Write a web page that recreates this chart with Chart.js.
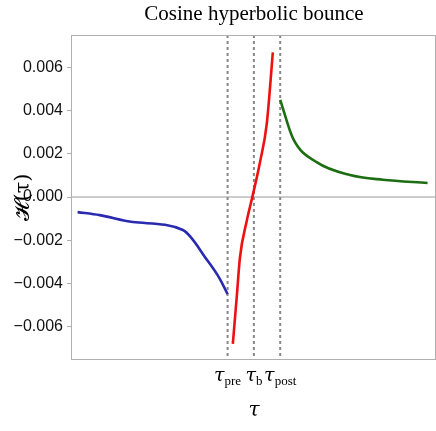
<!DOCTYPE html>
<html>
<head>
<meta charset="utf-8">
<script src="https://cdn.jsdelivr.net/npm/chart.js@4"></script>
<style>
  html, body { margin: 0; padding: 0; background: #fff; }
  #wrap { width: 436px; height: 431px; }
</style>
</head>
<body>
<div id="wrap"><canvas id="c"></canvas></div>
<script>
// values (tau in units where tau_b = 0, tau_pre = -1, tau_post = 1)
const preT  = [-6.7, -5.86, -4.6, -2.7, -1.79, -1.29, -1.0];
const preH  = [-0.0007, -0.00084, -0.00116, -0.00153, -0.0029, -0.0038, -0.0045];
const bounceT = [-0.8, -0.65, -0.53, -0.27, -0.04, 0.23, 0.49, 0.72];
const bounceH = [-0.0068, -0.0046, -0.0028, -0.0011, 0.0001, 0.0016, 0.0034, 0.0067];
const postT = [1.0, 1.49, 2.4, 3.65, 4.9, 6.6];
const postH = [0.0045, 0.0027, 0.0016, 0.00102, 0.0008, 0.00065];
const yTicks = [-0.006, -0.004, -0.002, 0, 0.002, 0.004, 0.006];
const markT = [-1, 0, 1];
const markLabels = [['τ', 'pre'], ['τ', 'b'], ['τ', 'post']];

const pts = (xs, ys) => xs.map((x, i) => ({ x, y: ys[i] }));

const decor = {
  id: 'decor',
  beforeDatasetsDraw(chart) {
    const { ctx, chartArea: a, scales: { x, y } } = chart;
    ctx.save();
    // zero line
    ctx.strokeStyle = '#9a9a9a';
    ctx.lineWidth = 1.2;
    ctx.beginPath();
    ctx.moveTo(a.left, y.getPixelForValue(0));
    ctx.lineTo(a.right, y.getPixelForValue(0));
    ctx.stroke();
    // dotted markers
    ctx.strokeStyle = '#888';
    ctx.lineWidth = 2;
    ctx.setLineDash([3, 3]);
    markT.forEach(t => {
      const px = x.getPixelForValue(t);
      ctx.beginPath();
      ctx.moveTo(px, a.top);
      ctx.lineTo(px, a.bottom);
      ctx.stroke();
    });
    ctx.restore();
  },
  afterDraw(chart) {
    const { ctx, chartArea: a, scales: { x } } = chart;
    ctx.save();
    // frame
    ctx.strokeStyle = '#b0b0b0';
    ctx.lineWidth = 1;
    ctx.strokeRect(a.left + 0.5, a.top + 0.5, a.right - a.left - 1, a.bottom - a.top);
    // title
    ctx.fillStyle = '#000';
    ctx.font = '21px "Liberation Serif", serif';
    ctx.textAlign = 'center';
    ctx.textBaseline = 'middle';
    ctx.fillText('Cosine hyperbolic bounce', 254, 14);
    // x tick labels with subscripts
    markT.forEach((t, i) => {
      const px = x.getPixelForValue(t);
      ctx.font = 'italic 19px "DejaVu Serif", serif';
      const w1 = ctx.measureText(markLabels[i][0]).width;
      ctx.font = '13px "Liberation Serif", serif';
      const w2 = ctx.measureText(markLabels[i][1]).width;
      const start = px - (w1 + w2) / 2;
      ctx.textAlign = 'left';
      ctx.textBaseline = 'alphabetic';
      ctx.font = 'italic 19px "DejaVu Serif", serif';
      ctx.fillText(markLabels[i][0], start, 381);
      ctx.font = '13px "Liberation Serif", serif';
      ctx.fillText(markLabels[i][1], start + w1, 385);
    });
    // axis titles
    ctx.textAlign = 'center';
    ctx.textBaseline = 'middle';
    ctx.font = 'italic 20px "DejaVu Serif", serif';
    ctx.fillText('τ', 254, 411);
    ctx.translate(24, 197);
    ctx.rotate(-Math.PI / 2);
    ctx.font = '21px "DejaVu Serif", serif';
    ctx.fillText('𝓗(τ)', 0, 0);
    ctx.restore();
  }
};

new Chart(document.getElementById('c'), {
  type: 'scatter',
  data: {
    datasets: [
      { data: pts(preT, preH), borderColor: '#2a2ab0' },
      { data: pts(bounceT, bounceH), borderColor: '#ee1111' },
      { data: pts(postT, postH), borderColor: '#1d6e12' }
    ].map(d => Object.assign(d, { showLine: true, pointRadius: 0, borderWidth: 2.6, cubicInterpolationMode: 'monotone' }))
  },
  options: {
    responsive: true,
    maintainAspectRatio: false,
    animation: false,
    layout: { padding: { top: 35, right: 0, bottom: 0, left: 0 } },
    plugins: { legend: { display: false }, tooltip: { enabled: false } },
    scales: {
      x: {
        type: 'linear', min: -6.95, max: 6.92,
        grid: { display: false }, border: { display: false },
        ticks: { display: false },
        afterFit: s => { s.height = 72; }
      },
      y: {
        min: -0.0075, max: 0.0075,
        afterBuildTicks: s => { s.ticks = yTicks.map(v => ({ value: v })); },
        afterFit: s => { s.width = 71; },
        grid: { drawOnChartArea: false, tickLength: 4, color: '#b0b0b0' },
        border: { display: false },
        ticks: {
          color: '#111', padding: 4,
          font: { family: '"Liberation Sans", sans-serif', size: 16 },
          callback: v => v.toFixed(3).replace('-', '−')
        }
      }
    }
  },
  plugins: [decor]
});
</script>
</body>
</html>
